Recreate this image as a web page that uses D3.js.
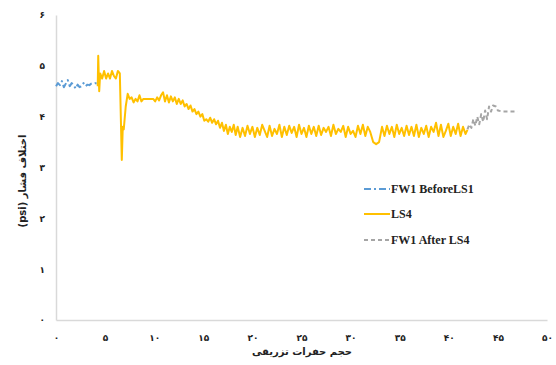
<!DOCTYPE html>
<html>
<head>
<meta charset="utf-8">
<script src="https://cdn.jsdelivr.net/npm/d3@7"></script>
<style>
  html, body { margin: 0; padding: 0; background: #fff; }
  svg { display: block; }
</style>
</head>
<body>
<div id="chart"></div>
<script>
// ---- Data ----
const xTicks = [0, 5, 10, 15, 20, 25, 30, 35, 40, 45, 50];
const yTicks = [0, 1, 2, 3, 4, 5, 6];
const seriesNames = ["FW1 BeforeLS1", "LS4", "FW1 After LS4"];

const fwBeforeX = [0, 0.2, 0.4, 0.6, 0.8, 1.0, 1.2, 1.4, 1.6, 1.8, 2.0, 2.2, 2.4, 2.6, 2.8, 3.0, 3.2, 3.4, 3.6, 3.8, 4.0, 4.25];
const fwBeforeY = [4.6, 4.66, 4.62, 4.7, 4.58, 4.65, 4.72, 4.6, 4.66, 4.62, 4.55, 4.63, 4.58, 4.6, 4.66, 4.6, 4.63, 4.62, 4.65, 4.65, 4.66, 4.65];

const ls4X = [4.25, 4.3, 4.4, 4.5, 4.7, 4.9, 5.1, 5.3, 5.5, 5.7, 5.9, 6.1, 6.3, 6.5, 6.7, 6.8, 6.9, 7.1, 7.3,
  7.5, 7.7, 7.9, 8.1, 8.3, 8.5, 8.7, 8.9, 9.1, 9.3, 9.5, 9.7, 9.9, 10.1, 10.3, 10.5, 10.7, 10.9, 11.1, 11.3, 11.5,
  11.7, 11.9, 12.1, 12.3, 12.5, 12.7, 12.9, 13.1, 13.3, 13.5, 13.7, 13.9, 14.1, 14.3, 14.5, 14.7, 14.9, 15.1, 15.3,
  15.5, 15.7, 15.9, 16.1, 16.3, 16.5, 16.7, 16.9, 17.1, 17.3, 17.5, 17.7, 17.9, 18.1, 18.3, 18.5, 18.75, 19.0,
  19.25, 19.5, 19.75, 20.0, 20.25, 20.5, 20.75, 21.0, 21.25, 21.5, 21.75, 22.0, 22.25, 22.5, 22.75, 23.0, 23.25,
  23.5, 23.75, 24.0, 24.25, 24.5, 24.75, 25.0, 25.25, 25.5, 25.75, 26.0, 26.25, 26.5, 26.75, 27.0, 27.25, 27.5,
  27.75, 28.0, 28.25, 28.5, 28.75, 29.0, 29.25, 29.5, 29.75, 30.0, 30.25, 30.5, 30.75, 31.0, 31.25, 31.5, 31.75,
  32.0, 32.3, 32.6, 32.9, 33.2, 33.45, 33.7, 33.95, 34.2, 34.45, 34.7, 34.95, 35.2, 35.45, 35.7, 35.95, 36.2, 36.45,
  36.7, 36.95, 37.2, 37.45, 37.7, 37.95, 38.2, 38.45, 38.7, 38.95, 39.2, 39.45, 39.7, 39.95, 40.2, 40.45, 40.7,
  40.95, 41.2, 41.45, 41.7, 41.9];
const ls4Y = [4.6, 5.2, 4.5, 4.85, 4.75, 4.9, 4.75, 4.85, 4.75, 4.9, 4.8, 4.75, 4.9, 4.85, 3.15, 3.8, 3.75, 4.2, 4.45,
  4.35, 4.38, 4.28, 4.35, 4.3, 4.42, 4.3, 4.35, 4.35, 4.35, 4.35, 4.35, 4.35, 4.3, 4.38, 4.32, 4.42, 4.48, 4.3, 4.42, 4.28,
  4.4, 4.3, 4.38, 4.25, 4.35, 4.25, 4.32, 4.2, 4.25, 4.15, 4.22, 4.1, 4.15, 4.05, 4.1, 4.0, 4.05, 3.92, 3.95,
  3.9, 3.98, 3.88, 3.95, 3.85, 3.92, 3.78, 3.88, 3.72, 3.84, 3.66, 3.8, 3.7, 3.84, 3.64, 3.8, 3.6, 3.78,
  3.62, 3.82, 3.66, 3.8, 3.6, 3.78, 3.64, 3.84, 3.72, 3.6, 3.82, 3.62, 3.76, 3.66, 3.84, 3.6, 3.8,
  3.64, 3.82, 3.68, 3.8, 3.6, 3.84, 3.66, 3.78, 3.6, 3.82, 3.66, 3.8, 3.62, 3.82, 3.64, 3.78, 3.7,
  3.8, 3.62, 3.84, 3.66, 3.76, 3.7, 3.82, 3.6, 3.8, 3.66, 3.72, 3.6, 3.82, 3.66, 3.84, 3.62, 3.8,
  3.7, 3.5, 3.46, 3.5, 3.8, 3.62, 3.82, 3.66, 3.8, 3.6, 3.84, 3.66, 3.78, 3.62, 3.82, 3.64, 3.8, 3.62,
  3.84, 3.6, 3.78, 3.66, 3.82, 3.6, 3.8, 3.7, 3.88, 3.62, 3.84, 3.6, 3.72, 3.86, 3.62, 3.8, 3.66,
  3.86, 3.62, 3.8, 3.66, 3.74];

const fwAfterX = [41.9, 42.1, 42.3, 42.5, 42.7, 42.9, 43.1, 43.3, 43.5, 43.7, 43.9, 44.1, 44.3, 44.5, 44.8, 45.0, 45.5, 46.0, 47.0];
const fwAfterY = [3.75, 3.85, 3.78, 3.95, 3.82, 4.0, 3.85, 4.05, 3.9, 4.12, 3.95, 4.2, 4.1, 4.22, 4.2, 4.12, 4.1, 4.1, 4.1];

// ---- Layout ----
const W = 556, H = 365;
const mLeft = 56, mRight = 547, mTop = 15, mBottom = 320;

const toFa = n => String(n).replace(/\d/g, d => "۰۱۲۳۴۵۶۷۸۹"[+d]);

const svg = d3.select("#chart").append("svg").attr("width", W).attr("height", H);

const x = d3.scaleLinear().domain([0, 50]).range([mLeft, mRight]);
const y = d3.scaleLinear().domain([0, 6]).range([mBottom, mTop]);

// axes
const xAxis = svg.append("g").attr("transform", `translate(0,${mBottom})`)
  .call(d3.axisBottom(x).tickValues(xTicks).tickSize(0).tickPadding(15).tickFormat(toFa));
const yAxis = svg.append("g").attr("transform", `translate(${mLeft},0)`)
  .call(d3.axisLeft(y).tickValues(yTicks).tickSize(0).tickPadding(11).tickFormat(toFa));
[xAxis, yAxis].forEach(a => {
  a.select(".domain").attr("stroke", "#d9d9d9").attr("stroke-width", 1.5);
  a.selectAll("text").attr("font-family", "'DejaVu Sans', sans-serif").attr("font-weight", "bold")
    .attr("font-size", 9).attr("fill", "#222");
});

const line = d3.line().x(d => x(d[0])).y(d => y(d[1]));
const zip = (a, b) => a.map((v, i) => [v, b[i]]);

const styles = [
  { color: "#5b9bd5", dash: "7,3,2,3", data: zip(fwBeforeX, fwBeforeY) },
  { color: "#ffc000", dash: null, data: zip(ls4X, ls4Y) },
  { color: "#a5a5a5", dash: "4,3", data: zip(fwAfterX, fwAfterY) }
];

[0, 2, 1].forEach(i => {
  const s = styles[i];
  svg.append("path").datum(s.data)
    .attr("fill", "none").attr("stroke", s.color).attr("stroke-width", 2)
    .attr("stroke-linejoin", "round")
    .attr("stroke-dasharray", s.dash)
    .attr("d", line);
});

// legend
const lg = svg.append("g");
const legendY = [189, 214, 240];
seriesNames.forEach((name, i) => {
  const s = styles[i];
  lg.append("line").attr("x1", 364).attr("x2", 390).attr("y1", legendY[i]).attr("y2", legendY[i])
    .attr("stroke", s.color).attr("stroke-width", 2).attr("stroke-dasharray", s.dash);
  lg.append("text").attr("x", 391).attr("y", legendY[i]).attr("dy", "0.35em")
    .attr("font-family", "'Liberation Serif', serif").attr("font-weight", "bold")
    .attr("font-size", 12).attr("fill", "#222").text(name);
});

// axis titles
svg.append("text").attr("x", 302).attr("y", 355).attr("text-anchor", "middle")
  .attr("direction", "rtl")
  .attr("font-family", "'DejaVu Sans', sans-serif").attr("font-weight", "bold")
  .attr("font-size", 10).attr("fill", "#222").text("حجم حفرات تزریقی");

svg.append("text").attr("transform", `translate(22,181) rotate(-90)`).attr("text-anchor", "middle")
  .attr("direction", "rtl").attr("dy", "0.35em")
  .attr("font-family", "'DejaVu Sans', sans-serif").attr("font-weight", "bold")
  .attr("font-size", 10).attr("fill", "#222").text("اختلاف فشار (psi)");
</script>
</body>
</html>
